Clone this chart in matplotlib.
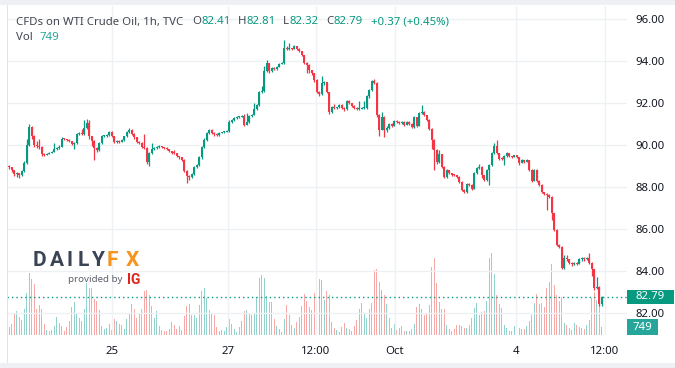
import matplotlib
matplotlib.use("Agg")
import matplotlib.pyplot as plt
from matplotlib.patches import Rectangle
import numpy as np

# ---------------- data ----------------
first_open = 89.00
closes = [
    88.93, 88.80, 88.60, 88.66, 88.55, 88.75, 89.15, 90.00, 90.85, 90.40,
    90.00, 89.95, 89.90, 89.55, 89.52, 89.58, 89.62, 89.68, 89.80, 89.85,
    89.92, 90.30, 90.28, 90.25, 90.18, 90.05, 90.10, 90.50, 90.56, 90.50,
    90.80, 91.02, 90.40, 90.20, 89.85, 89.75, 90.10, 90.40, 90.42, 90.46,
    90.62, 90.40, 90.15, 90.20, 90.15, 90.22, 90.40, 90.60, 90.72, 90.52,
    90.35, 90.15, 90.10, 89.90, 89.85, 89.20, 89.60, 89.80, 89.85, 89.90,
    89.93, 89.90, 89.85, 89.80, 89.70, 89.62, 89.60, 89.45, 89.40, 89.30,
    88.75, 88.50, 88.45, 88.60, 88.95, 89.02, 89.40, 89.90, 90.25, 90.55,
    90.70, 90.55, 90.50, 90.45, 90.58, 90.60, 90.62, 90.66, 91.10, 91.20,
    91.28, 91.32, 91.34, 91.36, 90.95, 91.10, 91.35, 91.42, 91.70, 91.90,
    92.50, 92.55, 93.50, 93.88, 93.50, 93.65, 93.60, 93.72, 93.85, 93.88,
    94.60, 94.55, 94.58, 94.56, 94.70, 94.55, 94.45, 94.25, 93.90, 93.80,
    93.55, 93.40, 93.10, 92.50, 92.40, 92.95, 92.98, 92.50, 91.55, 91.80,
    91.75, 91.78, 91.90, 91.75, 91.68, 92.10, 91.98, 91.85, 91.75, 91.70,
    91.72, 91.74, 91.76, 92.30, 92.60, 93.05, 92.95, 91.40, 90.72, 91.30,
    90.70, 90.80, 91.00, 90.90, 91.15, 91.10, 91.05, 91.10, 90.95, 91.10,
    91.00, 90.85, 91.30, 90.90, 91.50, 91.55, 91.40, 91.20, 90.75, 90.25,
    89.75, 89.20, 89.55, 88.95, 88.45, 88.80, 88.65, 88.58, 88.55, 88.48,
    88.25, 87.85, 87.75, 88.15, 88.10, 87.90, 88.65, 88.90, 88.95, 88.55,
    88.35, 88.80, 89.05, 89.60, 89.95, 89.60, 89.35, 89.33, 89.45, 89.60,
    89.45, 89.42, 89.50, 89.42, 89.15, 89.28, 89.20, 89.28, 88.82, 88.30,
    88.80, 88.30, 88.10, 87.75, 87.68, 87.62, 87.54, 86.74, 85.95, 85.24,
    85.16, 84.13, 84.60, 84.55, 84.40, 84.32, 84.40, 84.35, 84.55, 84.62,
    84.55, 84.62, 84.40, 84.10, 83.21, 83.25, 82.41, 82.79,
]
highs = [
    89.02, 88.95, 88.82, 88.72, 88.68, 88.80, 89.22, 90.30, 91.00, 90.90,
    90.45, 90.20, 90.30, 89.95, 89.62, 89.63, 89.66, 89.72, 90.10, 89.90,
    89.98, 90.36, 90.33, 90.30, 90.27, 90.20, 90.15, 90.55, 90.62, 90.75,
    91.20, 91.25, 91.18, 90.42, 90.22, 89.90, 90.15, 90.45, 90.46, 90.50,
    90.66, 90.65, 90.42, 90.25, 90.22, 90.26, 90.44, 90.64, 90.82, 90.74,
    90.55, 90.38, 90.18, 90.12, 90.50, 89.88, 89.65, 90.10, 89.90, 89.95,
    89.97, 89.95, 89.92, 89.88, 89.82, 89.72, 89.76, 89.62, 89.48, 89.42,
    89.32, 88.80, 88.55, 88.66, 89.00, 89.08, 89.46, 89.96, 90.32, 90.60,
    90.76, 90.74, 90.60, 90.55, 90.62, 90.63, 90.65, 90.70, 91.18, 91.25,
    91.32, 91.36, 91.38, 91.40, 91.45, 91.50, 91.40, 91.46, 92.00, 91.95,
    92.55, 92.80, 93.75, 94.05, 93.90, 93.72, 93.70, 93.76, 93.90, 93.92,
    95.00, 94.70, 94.85, 94.62, 94.76, 94.72, 94.58, 94.48, 94.28, 93.95,
    93.82, 93.58, 93.42, 93.12, 92.55, 93.25, 93.02, 93.00, 92.52, 91.85,
    91.95, 91.82, 91.94, 91.92, 91.78, 92.15, 92.12, 92.00, 91.88, 91.78,
    92.10, 91.78, 92.10, 92.35, 92.65, 93.10, 93.12, 92.98, 91.45, 91.55,
    91.35, 90.90, 91.05, 91.02, 91.20, 91.18, 91.12, 91.14, 91.12, 91.15,
    91.12, 91.02, 91.35, 91.32, 91.55, 91.89, 91.60, 91.42, 91.22, 90.78,
    90.28, 89.78, 89.75, 89.58, 88.98, 88.85, 88.82, 88.68, 88.62, 88.58,
    88.50, 88.28, 87.88, 88.20, 88.20, 88.12, 88.70, 88.95, 89.10, 88.98,
    88.58, 88.85, 89.10, 89.65, 90.10, 90.25, 89.62, 89.40, 89.50, 89.64,
    89.62, 89.48, 89.54, 89.52, 89.44, 89.32, 89.30, 89.32, 89.30, 88.84,
    88.85, 88.84, 88.32, 88.12, 87.78, 87.72, 87.66, 87.56, 86.76, 85.98,
    85.28, 85.18, 84.75, 84.77, 84.58, 84.42, 84.45, 84.44, 84.60, 84.66,
    84.66, 84.68, 84.85, 84.45, 84.12, 83.70, 83.28, 82.81,
]
lows = [
    88.85, 88.70, 88.50, 88.48, 88.42, 88.52, 88.72, 89.10, 89.95, 90.30,
    89.90, 89.85, 89.82, 89.48, 89.45, 89.50, 89.55, 89.60, 89.65, 89.76,
    89.82, 89.90, 90.22, 90.20, 90.12, 90.00, 89.78, 90.05, 90.45, 90.45,
    90.48, 90.75, 90.30, 89.95, 89.30, 89.65, 89.72, 90.05, 90.35, 90.38,
    90.42, 90.35, 90.10, 90.10, 90.10, 90.12, 90.18, 90.36, 90.55, 90.48,
    90.30, 90.10, 90.05, 89.85, 89.80, 89.10, 89.00, 89.55, 89.76, 89.82,
    89.86, 89.85, 89.80, 89.75, 89.65, 89.56, 89.55, 89.40, 89.35, 89.25,
    88.70, 88.20, 88.35, 88.40, 88.55, 88.90, 88.98, 89.35, 89.85, 90.20,
    90.50, 90.50, 90.40, 90.40, 90.42, 90.54, 90.56, 90.60, 90.62, 91.05,
    91.15, 91.25, 91.28, 91.30, 90.90, 90.92, 91.05, 91.30, 91.40, 91.65,
    91.85, 92.45, 92.50, 93.45, 93.40, 93.45, 93.55, 93.58, 93.70, 93.82,
    93.85, 94.50, 94.50, 94.50, 94.54, 94.50, 94.40, 94.20, 93.85, 93.40,
    93.40, 93.30, 93.00, 92.45, 92.30, 92.38, 92.85, 92.45, 91.45, 91.50,
    91.70, 91.70, 91.75, 91.70, 91.62, 91.66, 91.94, 91.80, 91.70, 91.64,
    91.66, 91.68, 91.70, 91.72, 92.25, 92.55, 92.90, 91.30, 90.40, 90.70,
    90.35, 90.60, 90.75, 90.85, 90.88, 91.05, 91.00, 91.00, 90.90, 90.92,
    90.95, 90.80, 90.82, 90.85, 90.88, 91.45, 91.35, 91.15, 90.70, 89.80,
    88.80, 89.10, 89.15, 88.90, 88.40, 88.42, 88.60, 88.54, 88.50, 88.44,
    88.20, 87.80, 87.70, 87.72, 88.05, 87.85, 87.88, 88.60, 88.85, 88.40,
    88.30, 88.30, 88.10, 89.00, 89.55, 89.55, 89.30, 89.28, 89.05, 89.42,
    89.42, 89.38, 89.40, 89.38, 89.05, 89.12, 89.16, 89.18, 88.78, 88.25,
    88.28, 88.25, 88.05, 87.70, 87.62, 86.90, 87.48, 86.43, 85.90, 85.20,
    85.10, 84.08, 84.10, 84.50, 84.35, 84.25, 84.28, 84.30, 84.32, 84.50,
    84.50, 84.52, 84.35, 83.75, 83.10, 83.15, 82.34, 82.32,
]
volumes = [
    720, 960, 1980, 2160, 1620, 1320, 2370, 3780, 5580, 5070,
    4560, 2370, 2700, 2370, 960, 420, 360, 420, 810, 1620,
    1080, 780, 360, 720, 1260, 2520, 2970, 1980, 1560, 1260,
    2370, 4680, 4200, 4200, 3240, 3060, 2280, 780, 570, 660,
    1020, 420, 1410, 1260, 960, 870, 570, 1410, 1980, 2760,
    2370, 1500, 1860, 2370, 3960, 4020, 3570, 2610, 1560, 2160,
    810, 420, 360, 360, 540, 1200, 900, 570, 810, 420,
    1680, 2610, 2820, 1800, 1800, 1500, 2700, 3960, 4200, 3360,
    2220, 2010, 1770, 720, 360, 420, 360, 720, 1410, 960,
    570, 270, 720, 1260, 2160, 2220, 1860, 1800, 1860, 3420,
    5100, 5370, 5100, 3510, 2970, 2970, 1410, 810, 570, 270,
    1410, 2670, 1800, 900, 660, 1170, 1650, 2610, 3660, 3060,
    2520, 2220, 3810, 4950, 5070, 4950, 3150, 3960, 3570, 1170,
    660, 420, 270, 720, 1110, 660, 570, 360, 810, 1350,
    2370, 2850, 2010, 1500, 2310, 2880, 5850, 5940, 4770, 4050,
    3600, 2760, 1500, 600, 960, 450, 660, 810, 360, 360,
    360, 510, 960, 2520, 2760, 2310, 1800, 1920, 2670, 6120,
    6930, 4680, 2970, 2310, 2310, 900, 510, 360, 510, 900,
    870, 810, 600, 600, 900, 1500, 2400, 2850, 1800, 2070,
    2160, 3060, 6960, 7380, 5460, 3600, 2820, 2400, 900, 600,
    360, 360, 810, 1260, 600, 510, 510, 810, 1260, 1800,
    2910, 3660, 2820, 2910, 2520, 4260, 4770, 6360, 4500, 3570,
    3060, 3420, 1110, 900, 600, 450, 1110, 900, 750, 600,
    510, 900, 1350, 3300, 3900, 3150, 3360, 749,
]
x_tick_pos = [41.1, 87.5, 122.7, 154.3, 202.7, 238.3]
x_tick_labels = ["25", "27", "12:00", "Oct", "4", "12:00"]
y_ticks = [82, 84, 86, 88, 90, 92, 94, 96]

title = "CFDs on WTI Crude Oil, 1h, TVC"
ohlc_keys = ["O", "H", "L", "C"]
ohlc_vals = ["82.41", "82.81", "82.32", "82.79"]
change_text = "+0.37 (+0.45%)"
last_price = 82.79
last_volume = 749

# ---------------- style ----------------
W, H = 675, 368
UP, DOWN = "#089981", "#f23645"
VUP, VDOWN = "#92d2cc", "#f7a9a7"
GRID = "#eef0f4"
TXT = "#131722"
HDR = "#434651"
FS = 8.2
plt.rcParams["font.family"] = ["Noto Sans", "DejaVu Sans"]

fig = plt.figure(figsize=(W / 100, H / 100), dpi=100)
fig.patch.set_facecolor("white")


def fx(px):
    return px / W


def fy(py):
    return 1 - py / H


pane_l, pane_r, pane_t, pane_b = 7, 627, 6, 335
axv = fig.add_axes([fx(pane_l), fy(pane_b), fx(pane_r - pane_l), (pane_b - pane_t) / H])
ax = fig.add_axes([fx(pane_l), fy(pane_b), fx(pane_r - pane_l), (pane_b - pane_t) / H])
ax.patch.set_alpha(0)

n = len(closes)
idx = np.arange(n)
opens = [first_open] + closes[:-1]
o = np.array(opens)
c = np.array(closes)
hi = np.array(highs)
lo = np.array(lows)
up = c >= o

xlim = (-0.92, 247.1)
for a in (ax, axv):
    a.set_xlim(*xlim)
ax.set_ylim(80.96, 96.60)
axv.set_ylim(0, 29610)

# grid
for yv in y_ticks:
    ax.axhline(yv, color=GRID, lw=1, zorder=0)
for xv in x_tick_pos:
    ax.axvline(xv, color=GRID, lw=1, zorder=0)

# volume bars
vcols = [VUP if u else VDOWN for u in up]
axv.bar(idx, volumes, width=0.5, color=vcols, linewidth=0, zorder=1)
axv.set_axis_off()

# candles
ccols = [UP if u else DOWN for u in up]
ax.vlines(idx, lo, hi, colors=ccols, linewidth=0.9, zorder=3)
body_lo = np.minimum(o, c)
body_h = np.maximum(np.abs(c - o), 0.045)
ax.bar(idx, body_h, bottom=body_lo, width=0.8, color=ccols, linewidth=0, zorder=4)

# last price line
ax.axhline(last_price, color=UP, lw=1, linestyle=(0, (1, 2.2)), zorder=2)

# axes styling
for s in ax.spines.values():
    s.set_visible(False)
ax.yaxis.tick_right()
ax.set_yticks(y_ticks)
ax.set_yticklabels([f"{v:.2f}" for v in y_ticks])
ax.tick_params(axis="y", length=0, pad=6, labelsize=FS, labelcolor=TXT)
ax.set_xticks(x_tick_pos)
ax.set_xticklabels(x_tick_labels)
ax.tick_params(axis="x", length=0, pad=8, labelsize=FS, labelcolor=TXT)

fig.canvas.draw()
renderer = fig.canvas.get_renderer()

# price tag
py = fig.transFigure.inverted().transform(ax.transData.transform((0, last_price)))[1]
tag_h = 14 / H
fig.patches.append(Rectangle((fx(627), py - tag_h / 2), fx(47), tag_h, transform=fig.transFigure,
                             facecolor=UP, edgecolor="none", zorder=5))
fig.text(fx(650.5), py, f"{last_price:.2f}", color="white", fontsize=FS, fontweight="bold",
         ha="center", va="center", zorder=6)

# volume tag
vy = fig.transFigure.inverted().transform(axv.transData.transform((0, last_volume)))[1]
fig.patches.append(Rectangle((fx(627), vy - tag_h / 2 - 1.5 / H), fx(31), tag_h + 2 / H, transform=fig.transFigure,
                             facecolor="#26a69a", edgecolor="none", zorder=5))
fig.text(fx(642.5), vy - 0.5 / H, str(last_volume), color="white", fontsize=FS, fontweight="bold",
         ha="center", va="center", zorder=6)

# frame
fig.patches.append(Rectangle((0, fy(5)), 1, 5 / H, transform=fig.transFigure, facecolor="#eef0f5",
                             edgecolor="none", zorder=0))
fig.patches.append(Rectangle((0, 0), 1, 5 / H, transform=fig.transFigure, facecolor="#eef0f5",
                             edgecolor="none", zorder=0))
fig.patches.append(Rectangle((fx(6.5), fy(363)), 1.2 / W, 358 / H, transform=fig.transFigure,
                             facecolor="#e0e3eb", edgecolor="none", zorder=0))


def put(x_px, y_fig, s, color, **kw):
    t = fig.text(fx(x_px), y_fig, s, color=color, fontsize=FS, va="center", **kw)
    bb = t.get_window_extent(renderer=renderer)
    return bb.x1  # right edge in pixels


# header (pieces placed one after another so they never overlap)
hy = fy(22)
r = put(16, hy, title, HDR)
key_x = [max(192, r + 6), 238, 283, 325]
for k, v, kx in zip(ohlc_keys, ohlc_vals, key_x):
    r0 = put(max(kx, r + 7) if k != "O" else kx, hy, k, HDR)
    r = put(r0 + 0.5, hy, v, UP)
put(max(370, r + 8), hy, change_text, UP)
r = put(16, fy(37), "Vol", HDR)
put(r + 7, fy(37), str(last_volume), "#26a69a")

# DailyFX logo
logo_letters = ["D", "A", "I", "L", "Y", "F", "X"]
logo_x = [39, 56.5, 70, 83, 97.5, 112.5, 132]
logo_c = ["#3b4455"] * 5 + ["#f7941d"] * 2
for ch, lx, lc in zip(logo_letters, logo_x, logo_c):
    fig.text(fx(lx), fy(260), ch, color=lc, fontsize=15, fontweight="bold", ha="center", va="center",
             family="Roboto", zorder=6)
fig.text(fx(68), fy(280), "provided by", color="#5a5f6a", fontsize=7, ha="left", va="center", zorder=6)
fig.text(fx(127), fy(280), "IG", color="#e2231a", fontsize=10, fontweight="bold", ha="left", va="center",
         family="Roboto", zorder=6)

fig.savefig("out.png", dpi=100, facecolor="white")
